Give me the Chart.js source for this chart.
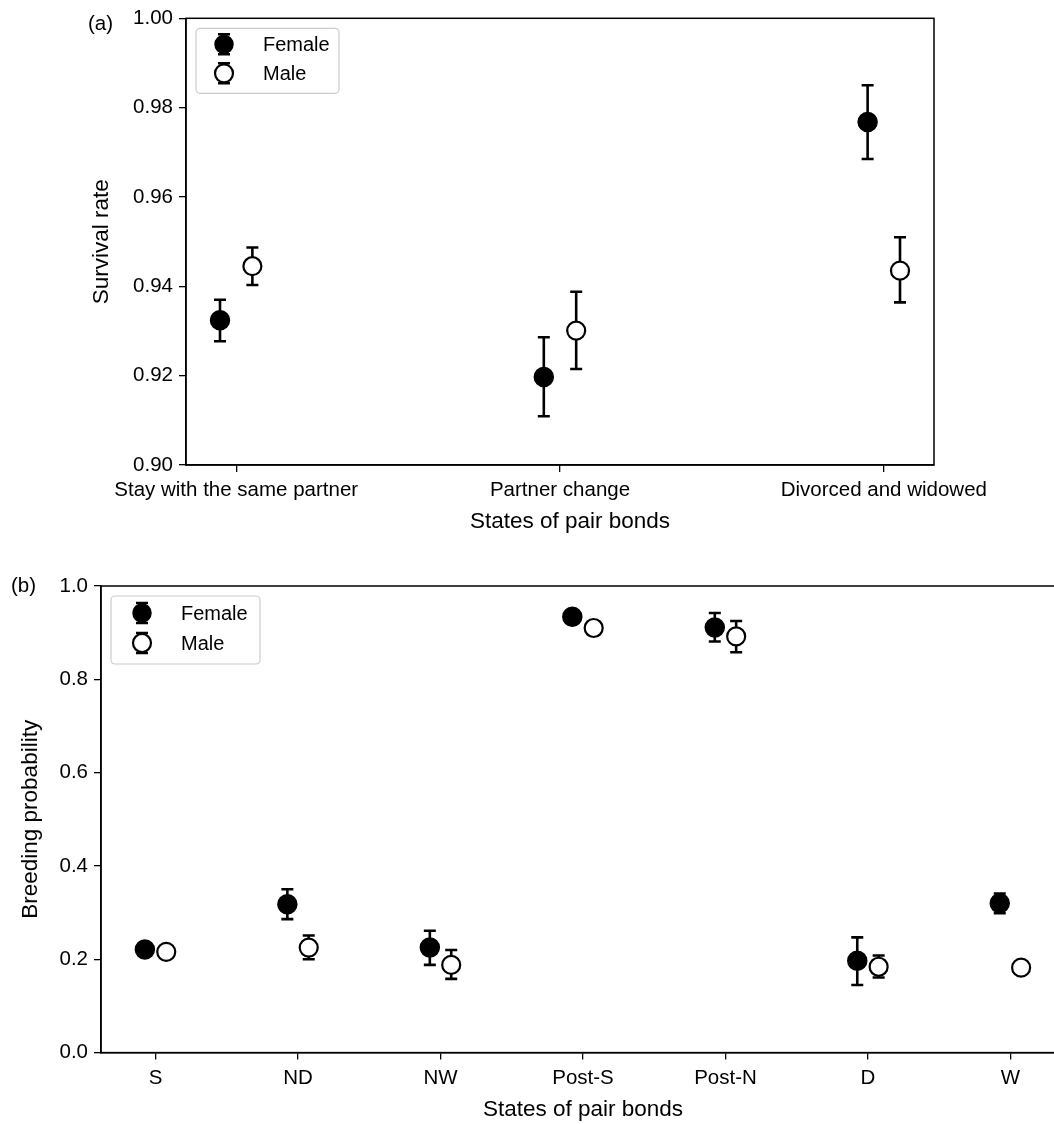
<!DOCTYPE html>
<html><head><meta charset="utf-8">
<script src="https://cdn.jsdelivr.net/npm/chart.js@4.4.1/dist/chart.umd.min.js"></script>
<style>
html,body{margin:0;padding:0;background:#fff;overflow:hidden;width:1054px;height:1124px;}
#wrap{position:relative;width:1054px;height:1124px;overflow:hidden;background:#fff;}
canvas{position:absolute;}
#ca{left:0;top:0;}
#cb{left:0;top:560px;}
.lab{position:absolute;font-family:'Liberation Sans',Arial,sans-serif;font-size:20.5px;line-height:20px;color:#000;}
</style></head><body>
<div id="wrap">
<canvas id="ca" width="1054" height="560" style="width:1054px;height:560px"></canvas>
<canvas id="cb" width="1100" height="564" style="width:1100px;height:564px"></canvas>
<div class="lab" style="left:88px;top:13px">(a)</div>
<div class="lab" style="left:11px;top:575px">(b)</div>
</div>
<script>
// ---------- Panel (a) data ----------
const catsA = ['Stay with the same partner', 'Partner change', 'Divorced and widowed'];
const femaleA   = [0.9324, 0.9197, 0.9768];
const femaleALo = [0.9277, 0.9109, 0.9685];
const femaleAHi = [0.9370, 0.9286, 0.9850];
const maleA     = [0.9445, 0.9301, 0.9435];
const maleALo   = [0.9403, 0.9215, 0.9364];
const maleAHi   = [0.9487, 0.9388, 0.9510];
const yTicksA = [0.90, 0.92, 0.94, 0.96, 0.98, 1.00];

// ---------- Panel (b) data ----------
const catsB = ['S', 'ND', 'NW', 'Post-S', 'Post-N', 'D', 'W'];
const femaleB   = [0.221, 0.318, 0.225, 0.934, 0.911, 0.197, 0.320];
const femaleBLo = [0.214, 0.286, 0.188, 0.926, 0.881, 0.145, 0.299];
const femaleBHi = [0.228, 0.350, 0.261, 0.942, 0.942, 0.247, 0.341];
const maleB     = [0.216, 0.225, 0.188, 0.910, 0.892, 0.184, 0.182];
const maleBLo   = [0.210, 0.200, 0.158, 0.904, 0.858, 0.161, 0.177];
const maleBHi   = [0.222, 0.251, 0.220, 0.916, 0.925, 0.208, 0.187];
const yTicksB = [0.0, 0.2, 0.4, 0.6, 0.8, 1.0];

const seriesNames = ['Female', 'Male'];
const xTitle = 'States of pair bonds';
const FONT = "'Liberation Sans', Arial, sans-serif";
Chart.defaults.font.family = FONT;
Chart.defaults.color = '#000';

function drawGlyph(ctx, x, y, filled, r, capY, capW) {
  ctx.save();
  ctx.strokeStyle = '#000';
  ctx.lineWidth = 2.5;
  if (capY) {
    ctx.beginPath();
    ctx.moveTo(x, y - capY); ctx.lineTo(x, y + capY);
    ctx.moveTo(x - capW, y - capY); ctx.lineTo(x + capW, y - capY);
    ctx.moveTo(x - capW, y + capY); ctx.lineTo(x + capW, y + capY);
    ctx.stroke();
  }
  ctx.beginPath();
  ctx.arc(x, y, r, 0, Math.PI * 2);
  ctx.fillStyle = filled ? '#000' : '#fff';
  ctx.fill();
  ctx.lineWidth = filled ? 1.5 : 2.2;
  ctx.stroke();
  ctx.restore();
}

function makeChart(id, o) {
  const errPlugin = {
    id: 'errbars',
    beforeDatasetsDraw(chart) {
      const ctx = chart.ctx, xs = chart.scales.x, ys = chart.scales.y;
      chart.data.datasets.forEach(ds => {
        ctx.save();
        ctx.strokeStyle = '#000';
        ctx.lineWidth = 2.6;
        ds.data.forEach((p, i) => {
          const x = xs.getPixelForValue(p.x);
          const y1 = ys.getPixelForValue(ds.lo[i]);
          const y2 = ys.getPixelForValue(ds.hi[i]);
          ctx.beginPath();
          ctx.moveTo(x, y1); ctx.lineTo(x, y2);
          ctx.moveTo(x - 6, y1); ctx.lineTo(x + 6, y1);
          ctx.moveTo(x - 6, y2); ctx.lineTo(x + 6, y2);
          ctx.stroke();
        });
        ctx.restore();
      });
    }
  };
  const framePlugin = {
    id: 'frame',
    afterDraw(chart) {
      const ctx = chart.ctx, a = chart.chartArea;
      ctx.save();
      ctx.strokeStyle = '#000';
      ctx.lineWidth = 1.5;
      ctx.strokeRect(a.left, a.top, a.right - a.left, a.bottom - a.top);
      // x-axis title
      ctx.fillStyle = '#000';
      ctx.font = '22.5px ' + FONT;
      ctx.textAlign = 'center';
      ctx.textBaseline = 'middle';
      ctx.fillText(xTitle, (a.left + a.right) / 2 + o.xtShift, o.xtY);
      // legend
      const L = o.legend;
      const bx = a.left + L.dx, by = a.top + L.dy;
      ctx.beginPath();
      ctx.roundRect(bx, by, L.w, L.h, 4);
      ctx.fillStyle = 'rgba(255,255,255,0.8)';
      ctx.fill();
      ctx.strokeStyle = '#cccccc';
      ctx.lineWidth = 1.2;
      ctx.stroke();
      ctx.restore();
      seriesNames.forEach((nm, k) => {
        const my = a.top + L.my[k];
        drawGlyph(ctx, a.left + L.mx, my, k === 0, 9, 10, 6);
        ctx.save();
        ctx.fillStyle = '#000';
        ctx.font = '20px ' + FONT;
        ctx.textBaseline = 'middle';
        ctx.textAlign = 'left';
        ctx.fillText(nm, a.left + L.tx, my + 1);
        ctx.restore();
      });
    }
  };
  const cats = o.cats;
  const mk = (vals, off) => vals.map((v, i) => ({x: i + off, y: v}));
  return new Chart(document.getElementById(id), {
    type: 'scatter',
    data: {
      datasets: [
        {label: seriesNames[0], data: mk(o.f, -o.off), lo: o.fLo, hi: o.fHi,
         pointRadius: 9.5, pointBackgroundColor: '#000', pointBorderColor: '#000', pointBorderWidth: 1.5, pointStyle: 'circle'},
        {label: seriesNames[1], data: mk(o.m, o.off), lo: o.mLo, hi: o.mHi,
         pointRadius: 9, pointBackgroundColor: '#fff', pointBorderColor: '#000', pointBorderWidth: 2.2, pointStyle: 'circle'}
      ]
    },
    options: {
      responsive: false,
      animation: false,
      events: [],
      layout: {padding: o.pad},
      plugins: {legend: {display: false}, tooltip: {enabled: false}},
      scales: {
        x: {
          type: 'linear',
          min: o.xmin, max: o.xmax,
          afterBuildTicks(s) { s.ticks = cats.map((c, i) => ({value: i})); },
          afterFit(s) { s.height = o.xH; },
          ticks: {
            autoSkip: false, maxRotation: 0, minRotation: 0, padding: 6,
            font: {size: 20.5}, color: '#000',
            callback: (v) => cats[v]
          },
          grid: {drawOnChartArea: false, drawTicks: true, tickLength: 7, color: '#000', lineWidth: 1.3},
          border: {display: true, color: '#000', width: 1.5},
          title: {display: false}
        },
        y: {
          min: o.ymin, max: o.ymax,
          afterBuildTicks(s) { s.ticks = o.yTicks.map(v => ({value: v})); },
          afterFit(s) { s.width = o.yW; },
          ticks: {padding: 6, font: {size: 20.5}, color: '#000', callback: (v) => Number(v).toFixed(o.dec)},
          grid: {drawOnChartArea: false, drawTicks: true, tickLength: 7, color: '#000', lineWidth: 1.3},
          border: {display: true, color: '#000', width: 1.5},
          title: {display: true, text: o.ytitle, color: '#000',
                  font: {size: 22.5, lineHeight: 1.2}, padding: {top: 0, bottom: 0}}
        }
      }
    },
    plugins: [errPlugin, framePlugin]
  });
}

makeChart('ca', {
  cats: catsA, f: femaleA, fLo: femaleALo, fHi: femaleAHi, m: maleA, mLo: maleALo, mHi: maleAHi,
  off: 0.05, xmin: -0.155, xmax: 2.155, ymin: 0.90, ymax: 1.00, yTicks: yTicksA, dec: 2,
  ytitle: 'Survival rate',
  pad: {left: 88, top: 17, right: 120, bottom: 0}, yW: 98, xH: 95, xtShift: 10, xtY: 522,
  legend: {dx: 10, dy: 10, w: 143, h: 65, mx: 38, my: [26, 55], tx: 77}
});

makeChart('cb', {
  cats: catsB, f: femaleB, fLo: femaleBLo, fHi: femaleBHi, m: maleB, mLo: maleBLo, mHi: maleBHi,
  off: 0.075, xmin: -0.383, xmax: 6.383, ymin: 0.0, ymax: 1.0, yTicks: yTicksB, dec: 1,
  ytitle: 'Breeding probability',
  pad: {left: 17, top: 26, right: 35, bottom: 0}, yW: 84, xH: 71.4, xtShift: 0, xtY: 550,
  legend: {dx: 10, dy: 10, w: 149, h: 68, mx: 41, my: [27, 57], tx: 80}
});
</script>
</body></html>
